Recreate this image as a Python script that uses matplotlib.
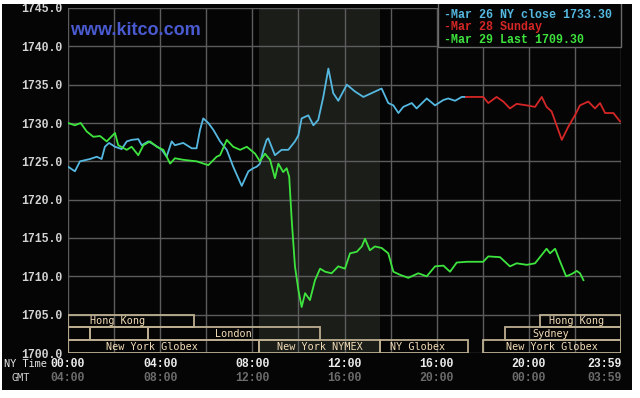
import matplotlib
matplotlib.use("Agg")
import matplotlib.pyplot as plt
from matplotlib.patches import Rectangle
import matplotlib.transforms as mtransforms
import numpy as np

# ---------------- data ----------------
blue_h = [0, 0.3, 0.52, 0.95, 1.25, 1.46, 1.6, 1.78, 2.04, 2.33, 2.55, 2.76, 3.05, 3.2, 3.48, 3.78,
          4.07, 4.28, 4.5, 4.64, 5.0, 5.37, 5.58, 5.73, 5.87, 6.09, 6.31, 6.6, 6.89, 7.17, 7.54, 7.83,
          8.04, 8.19, 8.33, 8.48, 8.62, 8.69, 8.98, 9.27, 9.56, 9.85, 10.0, 10.14, 10.43, 10.65, 10.86,
          11.08, 11.3, 11.51, 11.73, 12.1, 12.46, 12.82, 13.18, 13.61, 13.9, 14.12, 14.34, 14.55, 14.92,
          15.13, 15.57, 15.93, 16.29, 16.5, 16.8, 17.09, 17.27]
blue_v = [1724.3, 1723.7, 1725.0, 1725.3, 1725.6, 1725.3, 1726.9, 1727.4, 1726.9, 1726.6, 1727.6, 1727.8,
          1727.9, 1727.1, 1727.6, 1727.1, 1726.5, 1725.6, 1727.6, 1727.1, 1727.4, 1726.7, 1726.7, 1729.1,
          1730.6, 1730.0, 1729.1, 1727.6, 1726.5, 1724.3, 1721.8, 1723.7, 1724.1, 1724.3, 1724.7, 1726.5,
          1727.8, 1728.0, 1725.8, 1726.5, 1726.5, 1727.6, 1728.4, 1730.6, 1731.0, 1729.7, 1730.4, 1733.4,
          1737.1, 1733.9, 1732.9, 1735.0, 1734.1, 1733.4, 1733.9, 1734.5, 1732.6, 1732.3, 1731.3, 1732.1,
          1732.6, 1731.9, 1733.2, 1732.3, 1733.0, 1733.2, 1732.9, 1733.4, 1733.4]

red_h = [17.27, 18.02, 18.24, 18.6, 18.89, 19.18, 19.47, 19.91, 20.27, 20.56, 20.77, 20.99, 21.43, 21.71,
         22.0, 22.22, 22.58, 22.87, 23.09, 23.31, 23.67, 23.96]
red_v = [1733.4, 1733.4, 1732.6, 1733.4, 1732.8, 1731.9, 1732.5, 1732.3, 1732.1, 1733.4, 1732.1, 1731.5,
         1727.8, 1729.5, 1731.0, 1732.3, 1732.8, 1731.9, 1732.6, 1731.3, 1731.3, 1730.2]

green_h = [0, 0.3, 0.55, 0.81, 1.1, 1.39, 1.68, 2.04, 2.18, 2.55, 2.76, 3.05, 3.27, 3.56, 3.85, 4.14, 4.43,
           4.64, 5.0, 5.29, 5.58, 6.09, 6.45, 6.6, 6.89, 7.17, 7.47, 7.76, 8.12, 8.33, 8.55, 8.77, 8.98,
           9.13, 9.34, 9.49, 9.6, 9.71, 9.85, 10.0, 10.14, 10.29, 10.5, 10.72, 10.94, 11.16, 11.44, 11.73,
           12.02, 12.24, 12.53, 12.75, 12.89, 13.1, 13.32, 13.61, 13.9, 14.12, 14.41, 14.77, 15.2, 15.57,
           15.93, 16.29, 16.58, 16.87, 17.31, 18.02, 18.24, 18.75, 19.18, 19.47, 19.91, 20.27, 20.56,
           20.77, 20.92, 21.14, 21.36, 21.62, 21.86, 22.08, 22.22, 22.37]
green_v = [1730.0, 1729.7, 1730.0, 1728.9, 1728.2, 1728.3, 1727.6, 1728.7, 1727.1, 1726.5, 1726.9, 1725.8,
           1727.1, 1727.6, 1726.9, 1726.5, 1724.7, 1725.4, 1725.2, 1725.1, 1725.0, 1724.5, 1725.6, 1725.8,
           1727.8, 1726.9, 1726.5, 1726.9, 1726.0, 1725.0, 1726.0, 1725.2, 1722.8, 1724.7, 1723.6, 1724.1,
           1723.0, 1717.3, 1711.3, 1708.2, 1706.0, 1707.8, 1706.9, 1709.5, 1711.0, 1710.6, 1710.4, 1711.3,
           1711.0, 1713.0, 1713.2, 1713.9, 1714.9, 1713.4, 1713.9, 1713.7, 1713.0, 1710.6, 1710.2, 1709.8,
           1710.4, 1710.0, 1711.3, 1711.4, 1710.6, 1711.8, 1711.9, 1711.9, 1712.6, 1712.5, 1711.3, 1711.7,
           1711.5, 1711.7, 1712.8, 1713.6, 1713.0, 1713.6, 1711.9, 1710.0, 1710.3, 1710.7, 1710.4, 1709.5]

legend_labels = ["-Mar 26 NY close 1733.30", "-Mar 28 Sunday", "-Mar 29 Last 1709.30"]

y_ticks = [1700, 1705, 1710, 1715, 1720, 1725, 1730, 1735, 1740, 1745]
ny_tick_pos = [0, 4, 8, 12, 16, 20, 24]
ny_tick_labels = ["00:00", "04:00", "08:00", "12:00", "16:00", "20:00", "23:59"]
gmt_tick_labels = ["04:00", "08:00", "12:00", "16:00", "20:00", "00:00", "03:59"]

nymex_span = (8.29, 13.54)

# session boxes: row (0 = top), start, end
box_row = [0, 0, 1, 1, 1, 1, 2, 2, 2, 2]
box_start = [0, 20.49, 0, 0.95, 3.47, 18.97, 0, 8.29, 13.54, 18.01]
box_end = [5.47, 24, 0.95, 3.47, 10.94, 24, 8.29, 13.54, 17.36, 24]
# session labels
sess_row = [0, 0, 1, 1, 2, 2, 2, 2]
sess_x = [2.15, 22.08, 7.17, 20.96, 3.65, 10.92, 15.19, 20.99]
sess_text = ["Hong Kong", "Hong Kong", "London", "Sydney",
             "New York Globex", "New York NYMEX", "NY Globex", "New York Globex"]

assert len(blue_h) == len(blue_v)
assert len(red_h) == len(red_v)
assert len(green_h) == len(green_v)

# ---------------- figure ----------------
W, H = 640, 398
fig = plt.figure(figsize=(6.4, 3.98), dpi=100, facecolor="white")

bg = fig.add_axes([2 / W, 8 / H, 630 / W, 386 / H])
bg.set_facecolor("#050505")
bg.set_xticks([]); bg.set_yticks([])
for s in bg.spines.values():
    s.set_visible(False)

ax = fig.add_axes([68 / W, (H - 353) / H, 553 / W, 345 / H])
ax.set_facecolor("#050505")
for s in ax.spines.values():
    s.set_visible(False)
ax.set_xlim(0, 24)
ax.set_ylim(1700, 1745)

ax.axvspan(*nymex_span, color="#1b1d19", zorder=0, lw=0)

ax.set_xticks(np.arange(0, 25, 2))
ax.set_xticklabels([])
ax.set_yticks(y_ticks)
ax.set_yticklabels([f"{v:.1f}" for v in y_ticks])
ax.grid(True, color="#5c5c5c", lw=1.0, zorder=1)
ax.tick_params(axis="both", length=0)
ax.tick_params(axis="y", pad=33.8, labelcolor="#d4d4d4")
for lab in ax.get_yticklabels():
    lab.set_horizontalalignment("left")
    lab.set_fontfamily("Liberation Mono")
    lab.set_fontweight("bold")
    lab.set_fontsize(8.3)

# series
ax.plot(blue_h, blue_v, color="#55b8e0", lw=1.3, zorder=4)
ax.plot(red_h, red_v, color="#d42626", lw=1.3, zorder=4)
ax.plot(green_h, green_v, color="#3ee43e", lw=1.3, zorder=4)

# session boxes
row_lo = [1703.33, 1701.67, 1700.0]
row_hi = [1705.0, 1703.33, 1701.67]
for r, a, b in zip(box_row, box_start, box_end):
    ax.add_patch(Rectangle((a, row_lo[r]), b - a, row_hi[r] - row_lo[r], fill=False,
                           edgecolor="#bcae90", lw=1.3, zorder=3))
for r, x, t in zip(sess_row, sess_x, sess_text):
    ax.text(x, (row_lo[r] + row_hi[r]) / 2, t, ha="center", va="center",
            color="#f2dcb6", fontsize=7.3, family="DejaVu Sans Mono", zorder=5)

# legend box
ax.add_patch(Rectangle((0.669, 0.887), 0.331, 0.2, transform=ax.transAxes, facecolor="#050505",
                       edgecolor="#6a6a6a", lw=1.0, zorder=6, clip_on=False))
leg_colors = ["#55b8e0", "#d42626", "#3ee43e"]
leg_y = [0.980, 0.945, 0.907]
for t, c, yy in zip(legend_labels, leg_colors, leg_y):
    ax.text(0.680, yy, t, transform=ax.transAxes, color=c, fontsize=8.4,
            family="Liberation Mono", fontweight="bold", va="center", ha="left", zorder=7)

# watermark
ax.text(0.004, 0.936, "www.kitco.com", transform=ax.transAxes, color="#4a5ad0", fontsize=13,
        family="Liberation Sans", fontweight="bold", va="center", ha="left", zorder=7)

# x labels (two rows)
trans = mtransforms.blended_transform_factory(ax.transData, ax.transAxes)
for x, l1, l2 in zip(ny_tick_pos, ny_tick_labels, gmt_tick_labels):
    off = 0
    if x == 24:
        off = -12 / 72 * 72  # shift left in points
    tr = trans + mtransforms.ScaledTranslation(off / 72, 0, fig.dpi_scale_trans)
    ax.text(x, -0.032, l1, transform=tr, color="#ececec", fontsize=8.3, family="Liberation Mono",
            fontweight="bold", ha="center", va="center", clip_on=False)
    ax.text(x, -0.0725, l2, transform=tr, color="#6c6c6c", fontsize=8.3, family="Liberation Mono",
            fontweight="bold", ha="center", va="center", clip_on=False)

fig.text(4 / W, 1 - 364 / H, "NY Time", color="#e6e6e6", fontsize=7.4, family="DejaVu Sans Mono",
         ha="left", va="center")
fig.text(12 / W, 1 - 378 / H, "GMT", color="#cfcfcf", fontsize=7.4, family="DejaVu Sans Mono",
         ha="left", va="center")

# white border strip at the top (clips the top label like the reference)
fig.add_artist(Rectangle((0, 1 - 4 / H), 1, 4 / H, transform=fig.transFigure, facecolor="white",
                         edgecolor="none", zorder=20))

fig.savefig("out.png", dpi=100, facecolor="white")
